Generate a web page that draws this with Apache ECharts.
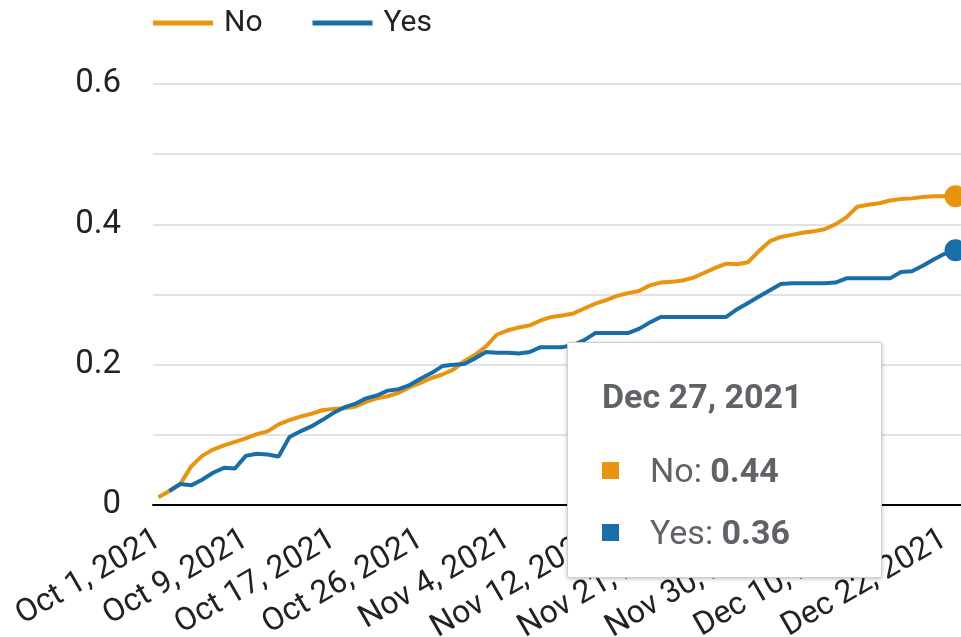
<!DOCTYPE html>
<html>
<head>
<meta charset="utf-8">
<script src="https://cdn.jsdelivr.net/npm/echarts@6/dist/echarts.min.js"></script>
<style>
  html, body { margin: 0; padding: 0; background: #fff; }
  #chart { width: 961px; height: 637px; }
</style>
</head>
<body>
<div id="chart"></div>
<script>
// dates that have data (some days are missing in the source)
var octDays = [1,2,3,4,5,6,7,8,9,10,11,12,13,14,15,16,17,18,19,20,21,22,24,25,26,27,28,29,30];
var novDays = [1,2,3,4,5,6,7,8,9,10,11,12,13,15,16,17,18,19,20,21,22,23,24,25,26,27,29,30];
var decDays = [1,2,3,6,7,8,9,10,13,14,15,16,17,20,21,22,27];

// tick labels shown on the x axis
var tickLabels = ['Oct 1, 2021','Oct 9, 2021','Oct 17, 2021','Oct 26, 2021','Nov 4, 2021',
  'Nov 12, 2021','Nov 21, 2021','Nov 30, 2021','Dec 10, 2021','Dec 22, 2021'];

var noValues = [0.011,0.02,0.03,0.055,0.07,0.079,0.085,0.09,0.095,0.101,
  0.105,0.115,0.121,0.126,0.13,0.135,0.137,0.138,0.14,0.147,
  0.152,0.155,0.16,0.168,0.174,0.181,0.186,0.193,0.205,0.214,
  0.226,0.243,0.249,0.253,0.256,0.263,0.268,0.27,0.273,0.28,
  0.287,0.292,0.298,0.302,0.305,0.313,0.317,0.318,0.32,0.324,
  0.331,0.338,0.344,0.343,0.346,0.362,0.376,0.382,0.385,0.388,
  0.39,0.393,0.4,0.41,0.425,0.428,0.43,0.434,0.436,0.437,
  0.439,0.44,0.44,0.44];

var yesValues = [null,0.02,0.03,0.028,0.036,0.046,0.053,0.052,0.07,0.073,
  0.072,0.069,0.097,0.105,0.112,0.121,0.131,0.139,0.144,0.152,
  0.156,0.163,0.165,0.171,0.18,0.188,0.198,0.2,0.201,0.209,
  0.218,0.217,0.217,0.216,0.218,0.225,0.225,0.225,0.228,0.235,
  0.245,0.245,0.245,0.245,0.251,0.26,0.268,0.268,0.268,0.268,
  0.268,0.268,0.268,0.279,0.288,0.297,0.306,0.315,0.316,0.316,
  0.316,0.316,0.317,0.323,0.323,0.323,0.323,0.323,0.332,0.333,
  0.341,0.35,0.358,0.363];

var categories = [];
octDays.forEach(function(d){ categories.push('Oct ' + d + ', 2021'); });
novDays.forEach(function(d){ categories.push('Nov ' + d + ', 2021'); });
decDays.forEach(function(d){ categories.push('Dec ' + d + ', 2021'); });

var lastIdx = categories.length - 1;
var font = 'Roboto, "Noto Sans", sans-serif';

var myChart = echarts.init(document.getElementById('chart'));

var option = {
  animation: false,
  textStyle: { fontFamily: font },
  color: ['#e8940f', '#1a6ea8'],
  legend: {
    left: 148,
    top: 3,
    itemWidth: 60,
    itemHeight: 5,
    itemGap: 50,
    icon: 'rect',
    data: ['No', 'Yes'],
    textStyle: { fontSize: 30, color: '#222', fontFamily: font, padding: [0, 0, 0, 6] }
  },
  grid: { left: 153, right: 0, top: 84, bottom: 132, containLabel: false, outerBoundsMode: 'none' },
  tooltip: {
    trigger: 'axis',
    triggerOn: 'none',
    alwaysShowContent: true,
    transitionDuration: 0,
    position: [567, 342],
    axisPointer: { type: 'none' },
    backgroundColor: '#fff',
    borderColor: '#cfcfcf',
    borderWidth: 1,
    padding: 0,
    extraCssText: 'width:315px;height:236px;box-sizing:border-box;border-radius:2px;box-shadow:0 1px 4px rgba(0,0,0,0.25);',
    formatter: function(params){
      var html = '<div style="font-family:Roboto,sans-serif;color:#5f6368;padding:32px 0 0 34px;">';
      html += '<div style="font-size:34px;font-weight:bold;line-height:42px;margin-bottom:32px;">' + params[0].name + '</div>';
      params.forEach(function(p){
        html += '<div style="font-size:34px;line-height:42px;height:62px;">' +
          '<span style="display:inline-block;width:17px;height:17px;background:' + p.color + ';margin-right:31px;vertical-align:3px;"></span>' +
          p.seriesName + ': <b>' + p.value.toFixed(2) + '</b></div>';
      });
      html += '</div>';
      return html;
    }
  },
  xAxis: {
    type: 'category',
    data: categories,
    boundaryGap: true,
    axisLine: { lineStyle: { color: '#000', width: 2 } },
    axisTick: { show: false },
    axisLabel: {
      rotate: 30,
      fontSize: 32,
      color: '#222',
      fontFamily: font,
      margin: 32,
      interval: function(i, v){ return tickLabels.indexOf(v) > -1; }
    }
  },
  yAxis: {
    type: 'value',
    min: 0,
    max: 0.6,
    interval: 0.1,
    axisLine: { show: false },
    axisTick: { show: false },
    splitLine: { lineStyle: { color: '#d9d9d9', width: 1.5 } },
    axisLabel: {
      fontSize: 33,
      color: '#222',
      fontFamily: font,
      margin: 32,
      formatter: function(v){
        var k = Math.round(v * 10);
        if (k % 2) return '';
        return k === 0 ? '0' : (k / 10).toString();
      }
    }
  },
  series: [
    {
      name: 'No',
      type: 'line',
      data: noValues,
      symbol: 'circle',
      showSymbol: true,
      symbolSize: function(v, p){ return p.dataIndex === lastIdx ? 20 : 0; },
      lineStyle: { width: 4 },
      emphasis: { disabled: true }
    },
    {
      name: 'Yes',
      type: 'line',
      data: yesValues,
      symbol: 'circle',
      showSymbol: true,
      symbolSize: function(v, p){ return p.dataIndex === lastIdx ? 20 : 0; },
      lineStyle: { width: 4 },
      emphasis: { disabled: true }
    }
  ]
};

myChart.setOption(option);
myChart.dispatchAction({ type: 'showTip', seriesIndex: 0, dataIndex: lastIdx });
</script>
</body>
</html>
